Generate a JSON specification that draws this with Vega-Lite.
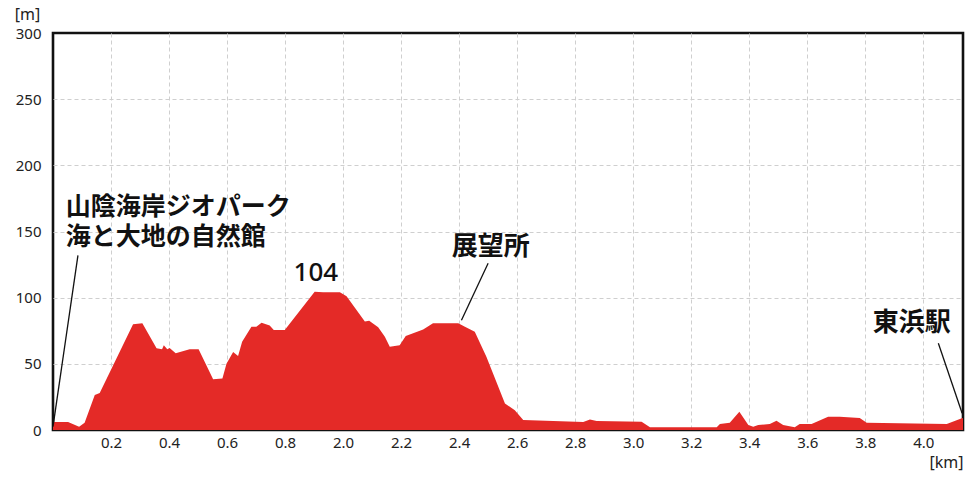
{
  "$schema": "https://vega.github.io/schema/vega-lite/v6.json",
  "width": 910,
  "height": 397,
  "autosize": "none",
  "padding": {"left": 53, "top": 33, "right": 10, "bottom": 51},
  "background": "white",
  "config": {
    "view": {"stroke": "#111111", "strokeWidth": 2.6},
    "axis": {
      "labelFont": "Noto Sans",
      "labelFontSize": 15,
      "labelColor": "#222222",
      "titleFont": "Noto Sans",
      "titleFontSize": 16,
      "titleFontWeight": "normal",
      "titleColor": "#222222",
      "domain": false,
      "ticks": false,
      "gridColor": {"condition": {"test": "datum.value == 0 || datum.value == 300", "value": "transparent"}, "value": "#cfcfcf"},
      "gridDash": [4, 3],
      "gridWidth": 1,
      "zindex": 1
    }
  },
  "datasets": {
    "profile": [
      {"d": 0.000, "h": 6},
      {"d": 0.052, "h": 6},
      {"d": 0.090, "h": 2.5},
      {"d": 0.109, "h": 5.5},
      {"d": 0.144, "h": 26.5},
      {"d": 0.161, "h": 28},
      {"d": 0.276, "h": 80},
      {"d": 0.308, "h": 80.6},
      {"d": 0.357, "h": 61.7},
      {"d": 0.376, "h": 61},
      {"d": 0.382, "h": 64},
      {"d": 0.394, "h": 61},
      {"d": 0.402, "h": 62},
      {"d": 0.423, "h": 58},
      {"d": 0.471, "h": 61},
      {"d": 0.502, "h": 61},
      {"d": 0.552, "h": 38.3},
      {"d": 0.584, "h": 39},
      {"d": 0.598, "h": 50},
      {"d": 0.621, "h": 59},
      {"d": 0.638, "h": 56},
      {"d": 0.652, "h": 66.7},
      {"d": 0.684, "h": 78},
      {"d": 0.701, "h": 78},
      {"d": 0.719, "h": 81},
      {"d": 0.747, "h": 79},
      {"d": 0.761, "h": 75.6},
      {"d": 0.799, "h": 75.6},
      {"d": 0.902, "h": 104.5},
      {"d": 0.931, "h": 104},
      {"d": 0.989, "h": 104},
      {"d": 1.012, "h": 101},
      {"d": 1.075, "h": 82},
      {"d": 1.090, "h": 82.6},
      {"d": 1.121, "h": 77.6},
      {"d": 1.144, "h": 70.5},
      {"d": 1.161, "h": 63},
      {"d": 1.195, "h": 64},
      {"d": 1.216, "h": 71},
      {"d": 1.276, "h": 76},
      {"d": 1.310, "h": 80.6},
      {"d": 1.397, "h": 80.6},
      {"d": 1.420, "h": 78},
      {"d": 1.454, "h": 74.3},
      {"d": 1.494, "h": 55.4},
      {"d": 1.558, "h": 20},
      {"d": 1.592, "h": 15},
      {"d": 1.621, "h": 7.6},
      {"d": 1.828, "h": 6},
      {"d": 1.851, "h": 8},
      {"d": 1.874, "h": 6.8},
      {"d": 2.029, "h": 6.3},
      {"d": 2.058, "h": 2},
      {"d": 2.288, "h": 2},
      {"d": 2.299, "h": 4.5},
      {"d": 2.333, "h": 5.5},
      {"d": 2.366, "h": 13.8},
      {"d": 2.397, "h": 3.8},
      {"d": 2.414, "h": 2.5},
      {"d": 2.431, "h": 3.8},
      {"d": 2.471, "h": 4.5},
      {"d": 2.494, "h": 7},
      {"d": 2.517, "h": 3.8},
      {"d": 2.557, "h": 2},
      {"d": 2.574, "h": 4.5},
      {"d": 2.615, "h": 4.5},
      {"d": 2.672, "h": 10},
      {"d": 2.712, "h": 10},
      {"d": 2.781, "h": 9},
      {"d": 2.805, "h": 5.5},
      {"d": 3.081, "h": 4.5},
      {"d": 3.133, "h": 8.8},
      {"d": 3.137, "h": 9}
    ],
    "leftLabels": [
      {"d": 0.044, "h": 168.5, "text": "山陰海岸ジオパーク"},
      {"d": 0.044, "h": 145.8, "text": "海と大地の自然館"}
    ],
    "centerLabels": [
      {"d": 1.509, "h": 138.3, "text": "展望所"},
      {"d": 2.960, "h": 80.6, "text": "東浜駅"}
    ],
    "peak": [
      {"d": 0.906, "h": 118.4, "text": "104"}
    ],
    "leaders": [
      {"d1": 0.0, "h1": 2.5, "d2": 0.086, "h2": 132},
      {"d1": 1.408, "h1": 83, "d2": 1.500, "h2": 126},
      {"d1": 3.134, "h1": 12.6, "d2": 3.052, "h2": 65.5}
    ]
  },
  "layer": [
    {
      "data": {"name": "profile"},
      "mark": {"type": "area", "color": "#e42a27", "interpolate": "linear"},
      "encoding": {
        "x": {
          "field": "d",
          "type": "quantitative",
          "scale": {"domain": [0, 3.137], "nice": false, "zero": false},
          "axis": {
            "values": [0.2, 0.4, 0.6, 0.8, 1.0, 1.2, 1.4, 1.6, 1.8, 2.0, 2.2, 2.4, 2.6, 2.8, 3.0],
            "labelExpr": "datum.value < 0.9 ? format(datum.value, '.1f') : format(datum.value + 1, '.1f')",
            "labelPadding": 5,
            "labelFontSize": 15,
            "title": "[km]",
            "titleFontSize": 16,
            "titleAnchor": "end",
            "titleAlign": "right",
            "titleX": 910,
            "titleY": 32,
            "titleBaseline": "middle"
          }
        },
        "y": {
          "field": "h",
          "type": "quantitative",
          "scale": {"domain": [0, 300], "nice": false},
          "axis": {
            "values": [0, 50, 100, 150, 200, 250, 300],
            "labelPadding": 12,
            "labelFontSize": 15,
            "title": "[m]",
            "titleFontSize": 16,
            "titleAngle": 0,
            "titleAlign": "center",
            "titleBaseline": "middle",
            "titleX": -26,
            "titleY": -19
          }
        }
      }
    },
    {
      "data": {"name": "leaders"},
      "mark": {"type": "rule", "color": "#111111", "strokeWidth": 1.3},
      "encoding": {
        "x": {"field": "d1", "type": "quantitative"},
        "y": {"field": "h1", "type": "quantitative"},
        "x2": {"field": "d2"},
        "y2": {"field": "h2"}
      }
    },
    {
      "data": {"name": "leftLabels"},
      "mark": {"type": "text", "font": "Noto Sans CJK JP", "fontSize": 25, "fontWeight": "bold", "color": "#111111", "baseline": "middle", "align": "left"},
      "encoding": {
        "x": {"field": "d", "type": "quantitative"},
        "y": {"field": "h", "type": "quantitative"},
        "text": {"field": "text"}
      }
    },
    {
      "data": {"name": "centerLabels"},
      "mark": {"type": "text", "font": "Noto Sans CJK JP", "fontSize": 26, "fontWeight": "bold", "color": "#111111", "baseline": "middle", "align": "center"},
      "encoding": {
        "x": {"field": "d", "type": "quantitative"},
        "y": {"field": "h", "type": "quantitative"},
        "text": {"field": "text"}
      }
    },
    {
      "data": {"name": "peak"},
      "mark": {"type": "text", "font": "Noto Sans", "fontSize": 26, "fontWeight": 500, "color": "#111111", "baseline": "middle", "align": "center"},
      "encoding": {
        "x": {"field": "d", "type": "quantitative"},
        "y": {"field": "h", "type": "quantitative"},
        "text": {"field": "text"}
      }
    }
  ]
}
